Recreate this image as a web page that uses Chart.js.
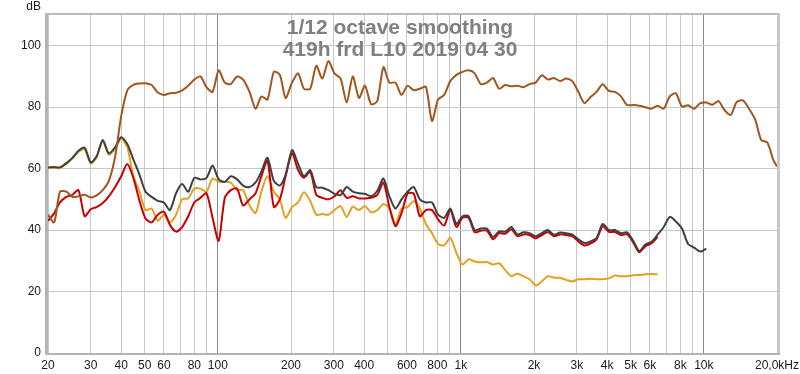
<!DOCTYPE html>
<html>
<head>
<meta charset="utf-8">
<script src="https://cdn.jsdelivr.net/npm/chart.js@4.4.1/dist/chart.umd.min.js"></script>
<style>
html,body{margin:0;padding:0;background:#fff;}
#wrap{width:800px;height:374px;position:relative;}
</style>
</head>
<body>
<div id="wrap"><canvas id="c" width="800" height="374"></canvas></div>
<script>
// ---- data ----
const freqs = [20,21.2,22.4,23.8,25.2,26.7,28.3,30,31.7,33.6,
35.6,37.8,40,42.4,44.9,47.6,50.4,53.4,56.6,60,
63.5,67.3,71.3,75.5,80,84.8,89.8,95.1,100.8,106.8,
113,120,127,135,143,151,160,170,180,190,
202,214,226,240,254,269,285,302,320,339,
359,381,403,427,453,480,508,538,570,604,
640,678,718,761,806,854,905,959,1016,1076,
1140,1208,1280,1356,1437,1522,1613,1709,1810,1918,
2032,2153,2281,2416,2560,2712,2874,3044,3225,3417,
3620,3836,4064,4305,4561,4833,5120,5424,5747,6089,
6451,6834,7241,7671,8127,8611,9123,9665,10240,10849,
11494,12177,12901,13668,14481,15342,16255,17222,18245,19330,
20000];

const brownDb = [45,42.5,52.5,52.5,50.8,51,51.5,50.6,51.3,53,
56,64,77,85.5,87.3,87.7,87.8,87.2,84.8,84,
84.5,84.7,85.5,87,89,90,86.5,85,92,88,
87.5,90,89,85,79.5,83.5,82.5,91.5,90.5,83,
88,91,86,86,93.5,89.3,95,91,89.3,81.5,
90,83,87,81,82,93,88,88,84,87,
85.5,86,86.6,75.5,82.5,84,88.5,90.5,91.5,92,
91,87.5,88,89.5,86,87.2,86.8,87,86.5,87.5,
88,90.4,89,89.5,88.5,89.3,88.5,85,81.3,83.3,
85,87.5,85.3,85,83.5,80.7,80.7,80.5,80,79.5,
80.5,79.5,83.5,84.5,80.2,80.6,79.5,81.3,81.5,80.8,
82,79,77.5,81.7,82.2,79.5,76,69.3,68.5,62.8,
60.7];

const grayDb = [60.4,60.5,60.4,61.8,63.5,65.8,66.8,62,64,69.3,
65,67,70.2,68,63,58,52.5,50.8,49.5,49,
46.5,52,55,52.5,57,56.5,57,61,56.5,55.7,
57.5,56.5,54.5,54,55.5,59,63.5,56,54.5,58,
66,61.5,57.5,59.5,54,53.8,53,51.8,51.4,54,
52.5,52,51.8,51,52.8,56.8,51,47,50,52.5,
54,50,49,49,45,44,47,42,44.5,44.5,
40,40.5,40.5,37.8,39.6,39.5,41,38.6,39.3,39,
38,39,40,38.5,39.2,39,38.5,37,35.8,36.3,
37.5,42,40,40,39,39.3,36.5,33.2,35.3,36.2,
38.5,41,44.3,42.8,40.5,35.5,34.3,33,34];

const redDb = [43,45.5,49,50.8,51.5,53,44.5,46.8,47.5,48.8,
51,54,57.5,61.5,57,49.5,43.8,42.5,45,46,
41.7,39.5,41,44.5,49,50.5,52,44,36.5,50.5,
53,53.5,48,50,52,57.5,62.5,47.5,50,57.5,
65,59.5,57,59,51.5,50.5,50,51,53,50.5,
51,50.3,50.3,50.5,51.5,55.5,47.5,41.3,45.5,51.9,
51.9,44.5,46.5,46.5,43.5,41.5,46.5,41,44,44,
39.3,39.8,39.8,37,39,38.8,40.3,38,38.6,38.4,
37.3,38.4,39.4,38,38.6,38.4,38,36.3,35,35.6,
37,41.3,39.4,39.4,38.4,38.7,36,32.8,34.8,35.7,
37.8];

const orangeDb = [60.2,60.2,60.2,61.5,63.3,65.5,66.3,61.7,63.7,69,
64.5,66.5,69.8,67,57.5,52.5,46.5,47,43,45,
42.5,45,50,50.3,53.5,53.5,52.5,56.8,55.7,55.7,
55.5,53,53,48,45.5,52.5,57.5,52.5,50,44,
47.5,49,52.3,49.5,45,45.2,45,46.5,47.8,44.3,
47.6,46.5,47.8,45.8,46.5,48.5,47,42,47,47.5,
49.5,47,42,39,35.5,35,37.5,32.6,28.8,30.5,
29.8,29.5,29.6,28.8,29.2,27,25,25.8,25,24,
22,23.3,25,24.5,24.5,23.8,23.3,24,24,24.2,
24,24,24.3,25.2,25,25,25.3,25.4,25.6,25.7,
25.6];

const xTickValues = [20,30,40,50,60,70,80,90,100,200,300,400,500,600,700,800,900,1000,2000,3000,4000,5000,6000,7000,8000,9000,10000,20000];
const xTickLabels = {20:'20',30:'30',40:'40',50:'50',60:'60',80:'80',100:'100',200:'200',300:'300',400:'400',600:'600',800:'800',1000:'1k',2000:'2k',3000:'3k',4000:'4k',5000:'5k',6000:'6k',8000:'8k',10000:'10k',20000:'20,0kHz'};
const yTickValues = [0,20,40,60,80,100];
const titleLines = ['1/12 octave smoothing', '419h frd L10 2019 04 30'];
const yUnit = 'dB';

// ---- chart ----
const toPts = arr => arr.map((v, i) => ({x: freqs[i], y: v}));
const FONT = '"Liberation Sans", Arial, sans-serif';

const framePlugin = {
  id: 'frame',
  beforeDatasetsDraw(chart) {
    const {ctx, chartArea: a} = chart;
    ctx.save();
    ctx.fillStyle = '#b4b4b4';
    ctx.fillRect(a.left - 3, a.top - 2, 3, a.bottom - a.top + 4);
    ctx.fillStyle = '#bcbcbc';
    ctx.fillRect(a.left - 3, a.top - 2, a.right - a.left + 6, 2);
    ctx.fillStyle = '#c8c8c8';
    ctx.fillRect(a.right, a.top - 2, 3, a.bottom - a.top + 4);
    ctx.fillStyle = '#b4b4b4';
    ctx.fillRect(a.left - 3, a.bottom, a.right - a.left + 6, 2);
    ctx.restore();
  },
  afterDraw(chart) {
    const {ctx} = chart;
    ctx.save();
    ctx.fillStyle = '#808080';
    ctx.font = 'bold 21px ' + FONT;
    ctx.textAlign = 'center';
    ctx.textBaseline = 'alphabetic';
    ctx.fillText(titleLines[0], 400, 34);
    ctx.fillText(titleLines[1], 400, 56);
    ctx.fillStyle = '#1a1a1a';
    ctx.font = '12px ' + FONT;
    ctx.textAlign = 'right';
    ctx.fillText(yUnit, 41, 10);
    ctx.restore();
  }
};

new Chart(document.getElementById('c'), {
  type: 'line',
  data: {
    datasets: [
      {label: 'brown', data: toPts(brownDb), borderColor: '#a0561e', order: 0},
      {label: 'gray', data: toPts(grayDb), borderColor: '#404040', order: 1},
      {label: 'red', data: toPts(redDb), borderColor: '#c80000', order: 2},
      {label: 'orange', data: toPts(orangeDb), borderColor: '#e4a020', order: 3}
    ]
  },
  options: {
    responsive: false,
    animation: false,
    layout: {padding: {left: 0, right: 23, top: 15, bottom: 0}},
    elements: {
      point: {radius: 0},
      line: {borderWidth: 2, tension: 0.25, fill: false}
    },
    plugins: {legend: {display: false}, tooltip: {enabled: false}, title: {display: false}},
    scales: {
      x: {
        type: 'logarithmic', min: 20, max: 20000,
        afterBuildTicks: s => { s.ticks = xTickValues.map(v => ({value: v})); },
        afterFit: s => { s.height = 21; s.paddingLeft = 0; s.paddingRight = 0; },
        border: {display: false},
        grid: {
          drawTicks: false,
          color: c => (c.tick && [100,1000,10000].includes(c.tick.value)) ? '#8a8a8a' : '#c8c8c8',
          lineWidth: 1
        },
        ticks: {
          autoSkip: false, maxRotation: 0, minRotation: 0, padding: 5,
          color: '#1a1a1a', font: {family: FONT, size: 12},
          callback: v => xTickLabels[v] !== undefined ? xTickLabels[v] : ''
        }
      },
      y: {
        type: 'linear', min: 0, max: 110,
        afterBuildTicks: s => { s.ticks = yTickValues.map(v => ({value: v})); },
        afterFit: s => { s.width = 48; s.paddingTop = 0; s.paddingBottom = 0; },
        border: {display: false},
        grid: {drawTicks: false, color: '#c8c8c8', lineWidth: 1},
        ticks: {padding: 7, color: '#1a1a1a', font: {family: FONT, size: 12}}
      }
    }
  },
  plugins: [framePlugin]
});
</script>
</body>
</html>
